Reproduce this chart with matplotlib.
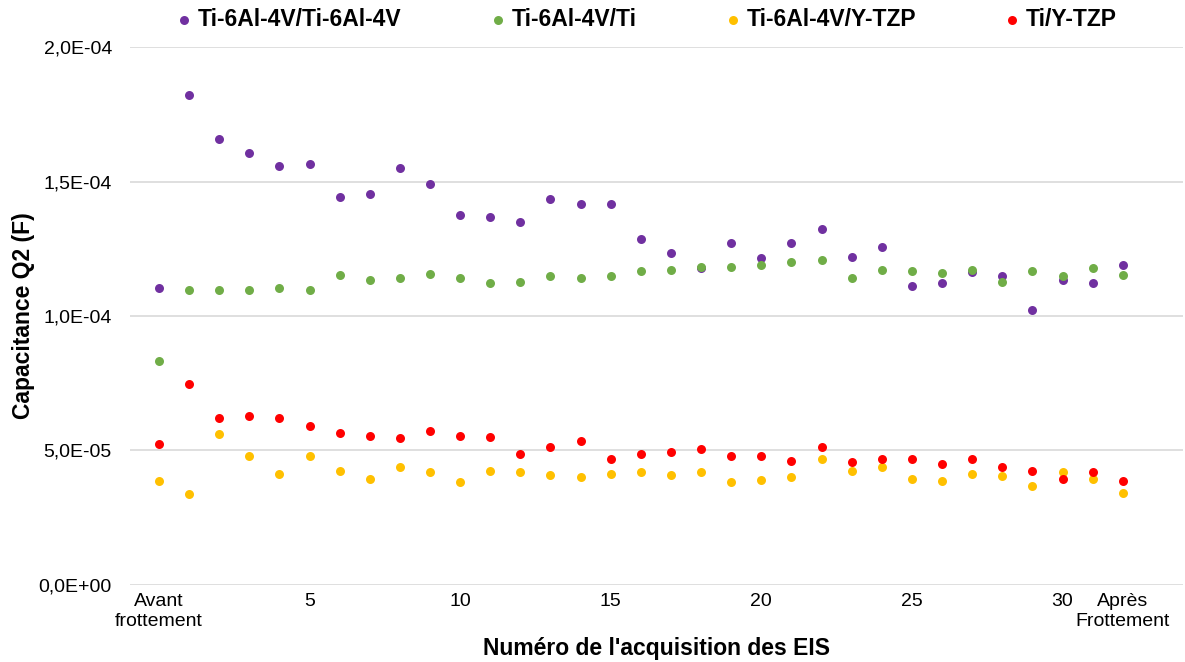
import matplotlib.pyplot as plt
from matplotlib.ticker import FuncFormatter

plt.rcParams['font.family'] = ['Liberation Sans', 'DejaVu Sans']

# acquisition index: 0 = "Avant frottement", 1..31, 32 = "Après Frottement"
acq = list(range(33))

ti64_ti64 = [11.03, 18.24, 16.58, 16.08, 15.59, 15.65, 14.42, 14.54, 15.52, 14.91,
             13.75, 13.68, 13.49, 14.35, 14.17, 14.17, 12.87, 12.33, 11.77, 12.70,
             12.14, 12.70, 13.25, 12.20, 12.57, 11.10, 11.22, 11.64, 11.47, 10.24,
             11.34, 11.22, 11.90]
ti64_ti = [8.31, 10.97, 10.97, 10.97, 11.03, 10.97, 11.52, 11.34, 11.40, 11.58,
           11.40, 11.21, 11.28, 11.47, 11.41, 11.47, 11.66, 11.72, 11.83, 11.83,
           11.89, 12.01, 12.08, 11.41, 11.72, 11.66, 11.59, 11.72, 11.28, 11.66,
           11.47, 11.78, 11.53]
ti64_ytzp = [3.87, 3.38, 5.60, 4.80, 4.12, 4.80, 4.24, 3.93, 4.37, 4.18,
             3.81, 4.24, 4.19, 4.07, 4.01, 4.13, 4.19, 4.07, 4.19, 3.82,
             3.88, 4.01, 4.68, 4.24, 4.37, 3.93, 3.87, 4.12, 4.06, 3.68,
             4.18, 3.93, 3.43]
ti_ytzp = [5.22, 7.45, 6.21, 6.27, 6.21, 5.91, 5.66, 5.54, 5.47, 5.72,
           5.54, 5.48, 4.87, 5.11, 5.36, 4.68, 4.87, 4.93, 5.05, 4.80,
           4.80, 4.62, 5.11, 4.55, 4.68, 4.68, 4.49, 4.68, 4.37, 4.24,
           3.93, 4.18, 3.87]

series = [
    ("Ti-6Al-4V/Ti-6Al-4V", ti64_ti64, '#7030A0'),
    ("Ti-6Al-4V/Ti", ti64_ti, '#70AD47'),
    ("Ti-6Al-4V/Y-TZP", ti64_ytzp, '#FFC000'),
    ("Ti/Y-TZP", ti_ytzp, '#FF0000'),
]

tick_pos = [0, 5, 10, 15, 20, 25, 30, 32]
tick_labels = ["Avant\nfrottement", "5", "10", "15", "20", "25", "30", "Après\nFrottement"]

fig = plt.figure(figsize=(11.85, 6.62), dpi=100)
ax = fig.add_axes([0.1097, 0.1168, 0.8886, 0.8118])

for name, vals, col in series:
    ax.scatter(acq, [v * 1e-5 for v in vals], s=42, color=col, label=name,
               zorder=3, linewidths=0)

ax.set_xlim(-0.96, 34.0)
ax.set_ylim(0, 2e-4)
ax.set_yticks([0, 5e-5, 1e-4, 1.5e-4, 2e-4])
ax.yaxis.set_major_formatter(FuncFormatter(lambda v, p: f"{v:.1E}".replace('.', ',')))
ax.set_xticks(tick_pos)
ax.set_xticklabels(tick_labels)

ax.grid(axis='y', color='#D9D9D9', linewidth=1.2, zorder=0)
ax.set_axisbelow(True)
for s in ax.spines.values():
    s.set_visible(False)
ax.tick_params(axis='y', length=0, pad=13, labelsize=14, colors='black')
ax.tick_params(axis='x', length=0, pad=6, labelsize=14, colors='black')

ax.set_ylabel("Capacitance Q2 (F)", fontsize=16.5, fontweight='bold', labelpad=3)
ax.set_xlabel("Numéro de l'acquisition des EIS", fontsize=16.5, fontweight='bold', labelpad=5)

fig.legend(loc='center', bbox_to_anchor=(0.546, 0.971), ncol=4, frameon=False,
           prop={'size': 16.5, 'weight': 'bold'}, handlelength=0.6,
           handletextpad=0.3, columnspacing=3.9, markerscale=1.0)

plt.savefig('out.png', dpi=100)
